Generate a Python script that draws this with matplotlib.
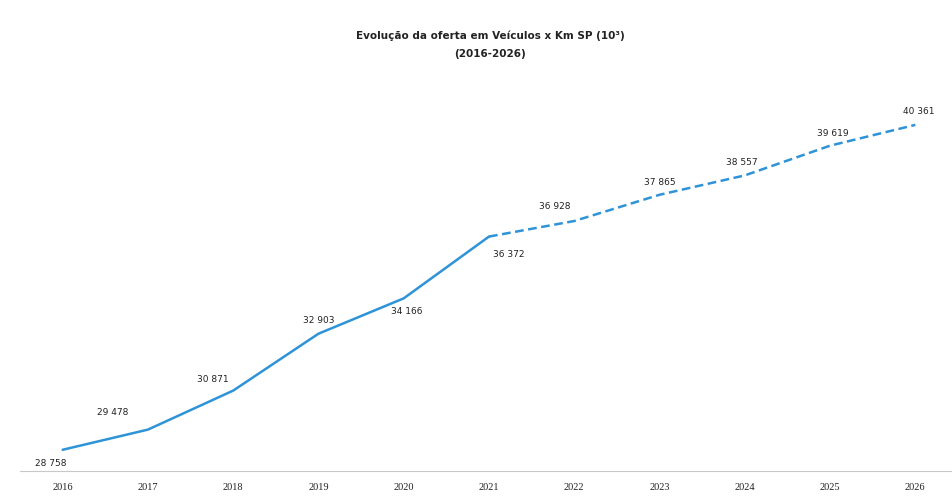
import matplotlib.pyplot as plt

anos = ["2016", "2017", "2018", "2019", "2020", "2021",
        "2022", "2023", "2024", "2025", "2026"]
oferta = [28758, 29478, 30871, 32903, 34166, 36372,
          36928, 37865, 38557, 39619, 40361]
ultimo_realizado = 5  # 2021: depois disso, projeção

# deslocamento dos rótulos em pixels (dx, dy)
label_offsets = [(-12, -14), (-35, 17), (-20, 11), (0, 13), (3, -13), (20, -18),
                 (-20, 15), (0, 12), (-3, 13), (3, 12), (3, 13)]

def fmt(v):
    return f"{v:,}".replace(",", " ")

cor = "#2f93d8"
fig = plt.figure(figsize=(9.52, 5.0), dpi=100)
ax = fig.add_axes([20 / 952, 29 / 500, 1 - 20 / 952, 392 / 500])

x = list(range(len(anos)))
ax.plot(x[:ultimo_realizado + 1], oferta[:ultimo_realizado + 1],
        color=cor, lw=1.8, solid_capstyle="round")
ax.plot(x[ultimo_realizado:], oferta[ultimo_realizado:],
        color=cor, lw=1.8, ls=(0, (3.5, 1.8)))

for xi, v, (dx, dy) in zip(x, oferta, label_offsets):
    ax.annotate(fmt(v), (xi, v), xytext=(dx * 0.72, dy * 0.72),
                textcoords="offset points", ha="center", va="center",
                fontsize=6.5, color="#222222", family="DejaVu Sans")

ax.set_xlim(-0.5, 10.43)
ax.set_ylim(28000, 42000)
ax.set_xticks(x)
ax.set_xticklabels(anos, family="Liberation Serif", fontsize=7.5, color="#222222")
ax.tick_params(axis="x", length=0, pad=9)
ax.set_yticks([])
for s in ["top", "right", "left"]:
    ax.spines[s].set_visible(False)
ax.spines["bottom"].set_color("#c8c8c8")
ax.spines["bottom"].set_linewidth(0.8)

fig.text(490 / 952, 1 - 36 / 500, "Evolução da oferta em Veículos x Km SP (10³)",
         ha="center", va="center", fontsize=7.5, fontweight="bold", color="#222222")
fig.text(490 / 952, 1 - 54 / 500, "(2016-2026)",
         ha="center", va="center", fontsize=7.5, fontweight="bold", color="#222222")

fig.savefig("out.png", dpi=100)
